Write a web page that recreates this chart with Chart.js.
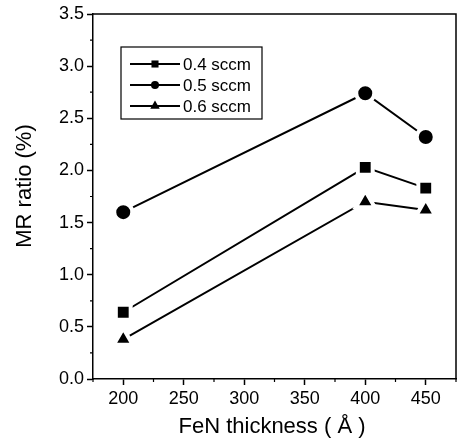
<!DOCTYPE html>
<html>
<head>
<meta charset="utf-8">
<script src="https://cdn.jsdelivr.net/npm/chart.js@4"></script>
<style>
html,body{margin:0;padding:0;background:#fff;}
#wrap{width:457px;height:443px;position:relative;}
</style>
</head>
<body>
<div id="wrap"><canvas id="c" width="457" height="443"></canvas></div>
<script>
const thickness = [200, 400, 450];
const mr04 = [0.64, 2.03, 1.83];
const mr05 = [1.60, 2.74, 2.32];
const mr06 = [0.38, 1.70, 1.62];
const seriesLabels = ['0.4 sccm', '0.5 sccm', '0.6 sccm'];
const xTickValues = [200, 250, 300, 350, 400, 450];
const yTickValues = [0.0, 0.5, 1.0, 1.5, 2.0, 2.5, 3.0, 3.5];
const xTitle = 'FeN thickness ( Å )';
const yTitle = 'MR ratio (%)';

const FONT = "'Liberation Sans', Arial, sans-serif";
const styles = [
  {pointStyle: 'rect', radius: 10.5},
  {pointStyle: 'circle', radius: 9},
  {pointStyle: 'triangle', radius: 11}
];
const allSeries = [mr04, mr05, mr06];

const datasets = allSeries.map((vals, i) => ({
  label: seriesLabels[i],
  data: thickness.map((x, j) => ({x: x, y: vals[j]})),
  borderColor: '#000',
  borderWidth: 2,
  backgroundColor: '#000',
  pointStyle: styles[i].pointStyle,
  pointRadius: styles[i].radius,
  pointHoverRadius: styles[i].radius,
  pointBackgroundColor: '#000',
  pointBorderColor: '#fff',
  pointBorderWidth: 4,
  tension: 0,
  fill: false,
  clip: false
}));

const isMajor = (v, step) => Math.abs(v / step - Math.round(v / step)) < 1e-6;

const extras = {
  id: 'extras',
  afterDraw(chart) {
    const ctx = chart.ctx;
    const a = chart.chartArea;
    const xs = chart.scales.x, ys = chart.scales.y;
    ctx.save();
    ctx.strokeStyle = '#000';
    ctx.lineWidth = 1.5;
    ctx.beginPath();
    ctx.moveTo(a.left, a.top); ctx.lineTo(a.right, a.top);
    ctx.lineTo(a.right, a.bottom);
    ctx.stroke();
    ctx.lineWidth = 1.2;
    ctx.beginPath();
    xs.ticks.forEach(t => {
      if (!isMajor(t.value, 50)) {
        const px = xs.getPixelForValue(t.value);
        ctx.moveTo(px, a.bottom); ctx.lineTo(px, a.bottom + 3);
      }
    });
    ys.ticks.forEach(t => {
      if (!isMajor(t.value, 0.5)) {
        const py = ys.getPixelForValue(t.value);
        ctx.moveTo(a.left, py); ctx.lineTo(a.left - 3, py);
      }
    });
    ctx.stroke();
    ctx.fillStyle = '#000';
    ctx.font = '22px ' + FONT;
    ctx.textAlign = 'center';
    ctx.textBaseline = 'middle';
    ctx.fillText(xTitle, 272, 427);
    ctx.save();
    ctx.translate(25, 186);
    ctx.rotate(-Math.PI / 2);
    ctx.fillText(yTitle, 0, 0);
    ctx.restore();
    const bx = 121, by = 47, bw = 141, bh = 72;
    ctx.lineWidth = 1.2;
    ctx.strokeRect(bx, by, bw, bh);
    const rowsY = [64, 85, 106];
    const legR = [5, 4, 5.5];
    ctx.font = '17px ' + FONT;
    ctx.textAlign = 'left';
    seriesLabels.forEach((lab, i) => {
      const y = rowsY[i];
      ctx.lineWidth = 1.8;
      ctx.strokeStyle = '#000';
      ctx.beginPath();
      ctx.moveTo(130, y); ctx.lineTo(180, y);
      ctx.stroke();
      ctx.fillStyle = '#000';
      Chart.helpers.drawPoint(ctx, {pointStyle: styles[i].pointStyle, rotation: 0, borderWidth: 0, radius: legR[i]}, 155, y);
      ctx.fillText(lab, 183, y + 1);
    });
    ctx.restore();
  }
};

new Chart(document.getElementById('c'), {
  type: 'line',
  data: {datasets},
  options: {
    responsive: false,
    animation: false,
    events: [],
    layout: {autoPadding: false, padding: {left: 0, top: 14, right: 1, bottom: 0}},
    plugins: {legend: {display: false}, tooltip: {enabled: false}},
    scales: {
      x: {
        type: 'linear',
        min: 175, max: 475,
        afterFit: s => { s.height = 64; s.paddingLeft = 0; s.paddingRight = 0; },
        afterBuildTicks: s => { const t = []; for (let v = 175; v <= 475; v += 25) t.push({value: v}); s.ticks = t; },
        ticks: {
          autoSkip: false, maxRotation: 0, padding: 3,
          color: '#000', font: {family: FONT, size: 18},
          callback: v => xTickValues.includes(v) ? String(v) : ''
        },
        grid: {
          drawOnChartArea: false, tickLength: 6, tickWidth: 1.5,
          tickColor: c => (c.tick && isMajor(c.tick.value, 50)) ? '#000' : 'rgba(0,0,0,0)'
        },
        border: {display: true, color: '#000', width: 1.5}
      },
      y: {
        min: 0, max: 3.5,
        afterFit: s => { s.width = 93; s.paddingTop = 0; s.paddingBottom = 0; },
        afterBuildTicks: s => { const t = []; for (let i = 0; i <= 14; i++) t.push({value: i * 0.25}); s.ticks = t; },
        ticks: {
          autoSkip: false, padding: 3,
          color: '#000', font: {family: FONT, size: 18},
          callback: v => yTickValues.some(y => Math.abs(y - v) < 1e-6) ? v.toFixed(1) : ''
        },
        grid: {
          drawOnChartArea: false, tickLength: 6, tickWidth: 1.5,
          tickColor: c => (c.tick && isMajor(c.tick.value, 0.5)) ? '#000' : 'rgba(0,0,0,0)'
        },
        border: {display: true, color: '#000', width: 1.5}
      }
    }
  },
  plugins: [extras]
});
</script>
</body>
</html>
